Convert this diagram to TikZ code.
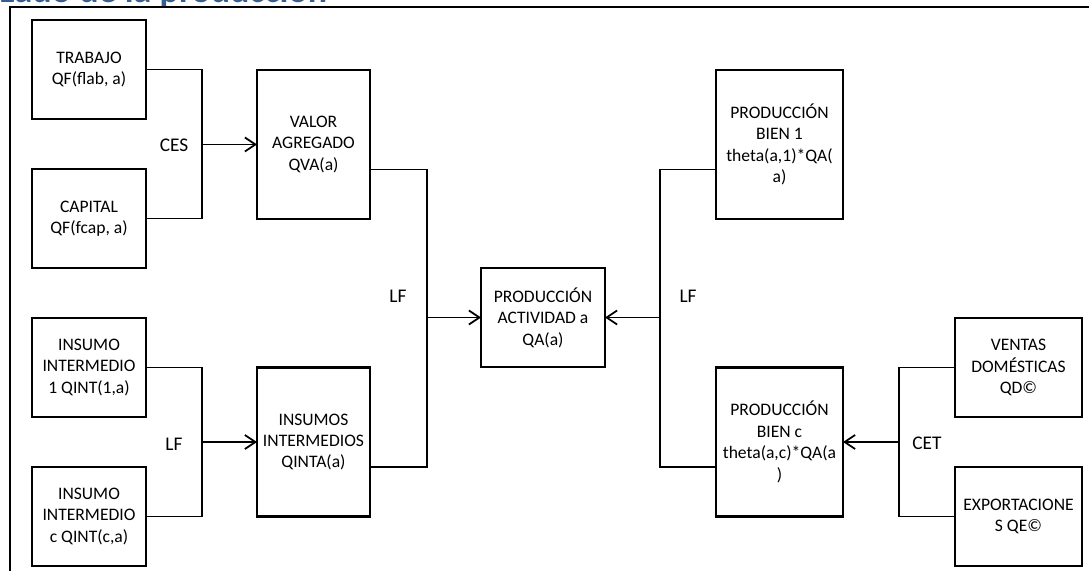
\documentclass[tikz,border=0pt]{standalone}
\usepackage{fontspec}
\setmainfont{Carlito}
\usepackage{tikz}
\usetikzlibrary{positioning,arrows.meta}
\usepackage{xcolor}
\definecolor{titleblue}{RGB}{54,95,145}

\begin{document}
\begin{tikzpicture}[
    x=0.2mm, y=-0.2mm,
    >={Straight Barb[length=6pt,width=8pt]},
    % styles
    smallnode/.style={rectangle, draw=black, line width=1.6pt, outer sep=0pt, inner sep=1pt, minimum width=22.8mm, minimum height=19.8mm, align=center, font=\fontsize{10}{12.2}\selectfont},
    tallnode/.style={smallnode, minimum width=22.6mm, minimum height=29.8mm},
    actnode/.style={smallnode, minimum width=24.8mm},
    biennode/.style={tallnode, minimum width=25.4mm},
    ventnode/.style={smallnode, minimum width=25.4mm},
    lbl/.style={font=\fontsize{11}{13}\selectfont},
    conn/.style={line width=1pt},
    frame/.style={line width=1.2pt},
    ]
    \useasboundingbox (0,0) rectangle (1089,571);

    % title, cut at the top
    \begin{scope}
    \clip (0,0) rectangle (1089,6);
    \node[anchor=base west, inner sep=0pt, text=titleblue, font=\fontsize{20.5}{24}\selectfont\bfseries] (titulo) at (-1,3) {Lado de la producción};
    \end{scope}
    \draw[frame] (10,571) -- (10,7) -- (1089,7);

    % Nodes
    \node[smallnode] (trabajo) at (89,69.5) {TRABAJO\\QF(flab, a)};
    \node[smallnode] (capital) [below=10mm of trabajo] {CAPITAL\\QF(fcap, a)};
    \node[tallnode] (valor) at (313.5,144.5) {VALOR\\AGREGADO\\QVA(a)};
    \node[smallnode] (insumo1) at (89,367.5) {INSUMO\\INTERMEDIO\\1 QINT(1,a)};
    \node[smallnode] (insumoc) [below=10mm of insumo1] {INSUMO\\INTERMEDIO\\c QINT(c,a)};
    \node[tallnode] (insumos) at (313.5,442) {INSUMOS\\INTERMEDIOS\\QINTA(a)};
    \node[actnode] (actividad) at (543,317.5) {PRODUCCIÓN\\ACTIVIDAD a\\QA(a)};
    \node[biennode] (bien1) at (779.5,144.5) {PRODUCCIÓN\\BIEN 1\\theta(a,1)*QA(\\a)};
    \node[biennode] (bienc) at (779.5,442) {PRODUCCIÓN\\BIEN c\\theta(a,c)*QA(a\\)};
    \node[ventnode] (ventas) at (1018.5,367.5) {VENTAS\\DOMÉSTICAS\\QD©};
    \node[ventnode] (export) [below=10mm of ventas] {EXPORTACIONE\\S QE©};

    % joints
    \coordinate (ces) at (202,144.5);
    \coordinate (lfins) at (202,442);
    \coordinate (lfact) at (427,317.5);
    \coordinate (lfbien) at (660,317.5);
    \coordinate (cet) at (899,442);

    % labels
    \node[lbl] (cestxt) at (174,145) {CES};
    \node[lbl] (lftxt1) at (174,444) {LF};
    \node[lbl] (lftxt2) at (398,296) {LF};
    \node[lbl] (lftxt3) at (688,296) {LF};
    \node[lbl] (cettxt) at (927,443) {CET};

    % Lines
    \draw[conn] (trabajo.east) -| (ces) |- (capital.east);
    \draw[conn,->] (ces) -- (valor.west);
    \draw[conn] (insumo1.east) -| (lfins) |- (insumoc.east);
    \draw[conn,->] (lfins) -- (insumos.west);
    \draw[conn] ([yshift=-5mm]valor.east) -| (lfact) |- ([yshift=-5mm]insumos.east);
    \draw[conn,->] (lfact) -- (actividad.west);
    \draw[conn] ([yshift=-5mm]bien1.west) -| (lfbien) |- ([yshift=-5mm]bienc.west);
    \draw[conn,->] (lfbien) -- (actividad.east);
    \draw[conn] (ventas.west) -| (cet) |- (export.west);
    \draw[conn,->] (cet) -- (bienc.east);
\end{tikzpicture}
\end{document}
